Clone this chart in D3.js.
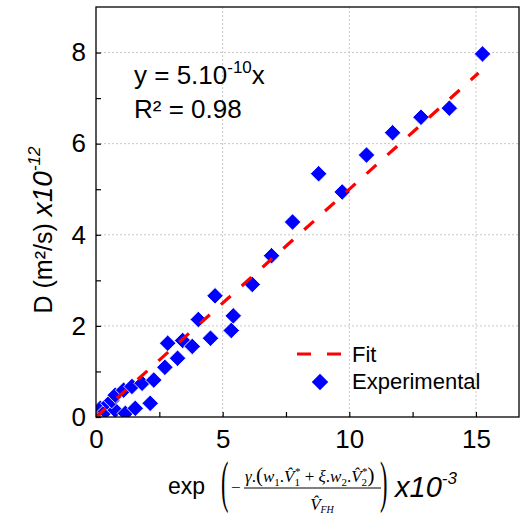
<!DOCTYPE html>
<html><head><meta charset="utf-8">
<script src="https://cdn.jsdelivr.net/npm/d3@7"></script>
<style>body{margin:0;background:#fff}svg{display:block}</style>
</head><body>
<script>
// Experimental points: x in 1e-3 units, D in 1e-12 m²/s
const expX = [0.04, 0.17, 0.37, 0.5, 0.76, 0.62, 1.16, 0.76, 1.09, 1.42, 1.82, 2.28, 1.55, 2.14,
              2.72, 2.83, 3.22, 3.42, 3.80, 4.04, 4.52, 4.70, 5.34, 5.42, 6.17, 6.93, 7.76, 8.79, 9.72,
              10.68, 11.71, 12.83, 13.95, 15.26];
const expY = [0.05, 0.19, 0.12, 0.3, 0.15, 0.36, 0.08, 0.48, 0.59, 0.67, 0.74, 0.81, 0.19, 0.3,
              1.09, 1.62, 1.29, 1.68, 1.55, 2.14, 1.73, 2.66, 1.90, 2.22, 2.91, 3.54, 4.28, 5.34, 4.94,
              5.75, 6.24, 6.58, 6.78, 7.97];
const fitSlope = 0.5;          // 5.10^-10 expressed in plot units
const fitRange = [0, 15.1];
const xTicks = [0, 5, 10, 15];
const xMinorTicks = [2.5, 7.5, 12.5];
const yTicks = [0, 2, 4, 6, 8];
const yMinorTicks = [1, 3, 5, 7];
const legendLabels = ["Fit", "Experimental"];

const W = 520, H = 517;
const L = 96, T = 7, R = 519, B = 417;
const sans = "'Liberation Sans', Arial, sans-serif";
const serif = "'Liberation Serif', 'Times New Roman', serif";

const svg = d3.select("body").append("svg").attr("width", W).attr("height", H);
const x = d3.scaleLinear().domain([0, 16.7]).range([L, R]);
const y = d3.scaleLinear().domain([0, 9]).range([B, T]);

// grid
const grid = svg.append("g").attr("stroke", "#c8c8c8").attr("stroke-width", 1).attr("stroke-dasharray", "2,2");
grid.selectAll(".gx").data(xTicks.filter(d => d > 0)).join("line")
  .attr("x1", d => x(d)).attr("x2", d => x(d)).attr("y1", T).attr("y2", B);
grid.selectAll(".gy").data(yTicks.filter(d => d > 0)).join("line")
  .attr("y1", d => y(d)).attr("y2", d => y(d)).attr("x1", L).attr("x2", R);

// axes
const xAxis = d3.axisBottom(x).tickValues(xTicks.concat(xMinorTicks)).tickSizeInner(-5).tickSizeOuter(0)
  .tickFormat(d => xTicks.includes(d) ? d3.format("d")(d) : "").tickPadding(12);
const gx = svg.append("g").attr("transform", `translate(0,${B})`).call(xAxis);
const yAxis = d3.axisLeft(y).tickValues(yTicks.concat(yMinorTicks)).tickSizeInner(-5).tickSizeOuter(0)
  .tickFormat(d => yTicks.includes(d) ? d3.format("d")(d) : "").tickPadding(10);
const gy = svg.append("g").attr("transform", `translate(${L},0)`).call(yAxis);
[gx, gy].forEach(g => {
  g.select(".domain").remove();
  g.selectAll("line").attr("stroke", "#000").attr("stroke-width", 1.2);
  g.selectAll("text").attr("font-family", sans).attr("font-size", 26).attr("fill", "#000");
});
gx.selectAll("text").attr("dy", "0.72em");

// data
svg.append("clipPath").attr("id", "clip").append("rect")
  .attr("x", L).attr("y", T).attr("width", R - L).attr("height", B - T);
const plot = svg.append("g").attr("clip-path", "url(#clip)");
const diamond = d3.symbol().type(d3.symbolSquare).size(136);
plot.selectAll("path.pt").data(expX.map((v, i) => [v, expY[i]])).join("path")
  .attr("class", "pt").attr("d", diamond)
  .attr("transform", d => `translate(${x(d[0])},${y(d[1])}) rotate(45)`)
  .attr("fill", "#0000ff").attr("stroke", "#fff").attr("stroke-width", 0.8);
plot.append("line")
  .attr("x1", x(fitRange[0])).attr("y1", y(fitRange[0] * fitSlope))
  .attr("x2", x(fitRange[1])).attr("y2", y(fitRange[1] * fitSlope))
  .attr("stroke", "#ff0000").attr("stroke-width", 3.2).attr("stroke-dasharray", "13,15");

// frame
svg.append("rect").attr("x", L).attr("y", T).attr("width", R - L).attr("height", B - T)
  .attr("fill", "none").attr("stroke", "#000").attr("stroke-width", 1.3);

// equation
const eq = svg.append("text").attr("x", 134).attr("y", 84).attr("font-family", sans).attr("font-size", 26);
eq.append("tspan").text("y = 5.10");
eq.append("tspan").attr("dy", -11).attr("font-size", 17).text("-10");
eq.append("tspan").attr("dy", 11).text("x");
svg.append("text").attr("x", 134).attr("y", 118).attr("font-family", sans).attr("font-size", 26).text("R² = 0.98");

// legend
svg.append("line").attr("x1", 297).attr("x2", 342).attr("y1", 354).attr("y2", 354)
  .attr("stroke", "#ff0000").attr("stroke-width", 3.2).attr("stroke-dasharray", "14,16");
svg.append("path").attr("d", diamond).attr("transform", "translate(320,382) rotate(45)").attr("fill", "#0000ff");
svg.selectAll("text.leg").data(legendLabels).join("text").attr("class", "leg")
  .attr("x", 352).attr("y", (d, i) => 362 + i * 27)
  .attr("font-family", sans).attr("font-size", 22).text(d => d);

// y label
const yl = svg.append("text").attr("transform", "translate(52,230) rotate(-90)")
  .attr("text-anchor", "middle").attr("font-family", sans).attr("font-size", 25);
yl.append("tspan").text("D (m²/s)  ");
yl.append("tspan").attr("font-style", "italic").attr("font-size", 28).text("x10");
yl.append("tspan").attr("font-style", "italic").attr("font-size", 17).attr("dy", -12).text("-12");

// x label
svg.append("text").attr("x", 168).attr("y", 494).attr("font-family", sans).attr("font-size", 23).text("exp");
svg.append("text").attr("transform", "translate(221,501) scale(0.4,1)").attr("font-family", serif)
  .attr("font-size", 56).text("(");
svg.append("text").attr("transform", "translate(380,501) scale(0.4,1)").attr("font-family", serif)
  .attr("font-size", 56).text(")");
svg.append("text").attr("x", 231).attr("y", 493).attr("font-family", serif).attr("font-size", 17).text("−");
svg.append("line").attr("x1", 244).attr("x2", 381).attr("y1", 488).attr("y2", 488).attr("stroke", "#000").attr("stroke-width", 1);

function runs(sel, parts) {
  let shift = 0;
  parts.forEach(p => {
    const t = sel.append("tspan").text(p.t);
    const s = p.s || 0;
    if (s !== shift) { t.attr("dy", s - shift); shift = s; }
    if (p.dx) t.attr("dx", p.dx);
    if (p.i) t.attr("font-style", "italic");
    if (p.z) t.attr("font-size", p.z);
  });
}
const num = svg.append("text").attr("x", 245).attr("y", 482).attr("font-family", serif).attr("font-size", 17);
runs(num, [
  {t: "γ", i: 1}, {t: "."}, {t: "(", z: 21}, {t: "w", i: 1}, {t: "1", s: 4, z: 11}, {t: ".", s: 0},
  {t: "V\u0302", i: 1}, {t: "1", s: 4, z: 11}, {t: "*", s: -7, z: 11, dx: -5}, {t: " + ", s: 0},
  {t: "ξ", i: 1}, {t: "."}, {t: "w", i: 1}, {t: "2", s: 4, z: 11}, {t: ".", s: 0},
  {t: "V\u0302", i: 1}, {t: "2", s: 4, z: 11}, {t: "*", s: -7, z: 11, dx: -5}, {t: ")", s: 0, z: 21}
]);
const den = svg.append("text").attr("x", 322).attr("y", 510).attr("text-anchor", "middle").attr("font-family", serif).attr("font-size", 17);
runs(den, [{t: "V\u0302", i: 1}, {t: "FH", s: 3, z: 10, i: 1}]);

const xl = svg.append("text").attr("x", 395).attr("y", 497).attr("font-family", sans).attr("font-style", "italic").attr("font-size", 29);
xl.append("tspan").text("x10");
xl.append("tspan").attr("font-size", 17).attr("dy", -13).text("-3");
</script>
</body></html>
